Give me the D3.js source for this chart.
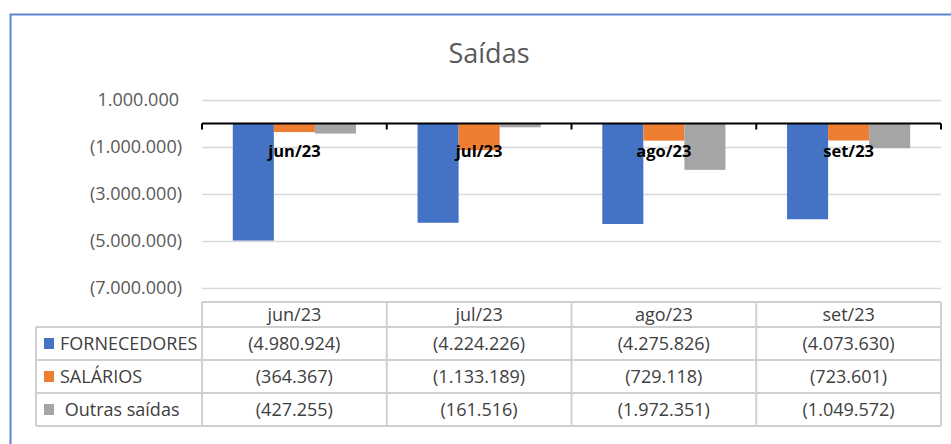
<!DOCTYPE html>
<html>
<head>
<meta charset="utf-8">
<script src="https://cdn.jsdelivr.net/npm/d3@7"></script>
<style>
  body { margin: 0; background: #fff; }
  text { font-family: "Open Sans", sans-serif; }
</style>
</head>
<body>
<div id="chart"></div>
<script>
const months = ['jun/23', 'jul/23', 'ago/23', 'set/23'];
const seriesNames = ['FORNECEDORES', 'SALÁRIOS', ' Outras saídas'];
const fornecedores = [-4980924, -4224226, -4275826, -4073630];
const salarios = [-364367, -1133189, -729118, -723601];
const outras = [-427255, -161516, -1972351, -1049572];
const yTicks = [1000000, -1000000, -3000000, -5000000, -7000000];
const colors = ['#4472C4', '#ED7D31', '#A5A5A5'];

const width = 951, height = 444;
const plot = { left: 202, right: 941, top: 100, bottom: 288 };

const locale = d3.formatLocale({ decimal: ',', thousands: '.', grouping: [3], currency: ['', ''] });
const num = locale.format(',.0f');
const fmt = v => v < 0 ? `(${num(-v)})` : num(v);

const seriesValues = [fornecedores, salarios, outras];
const rows = seriesNames.map((name, i) => ({ name, color: colors[i], values: seriesValues[i] }));

const svg = d3.select('#chart').append('svg')
    .attr('width', width)
    .attr('height', height);

svg.append('rect')
    .attr('width', width).attr('height', height)
    .attr('fill', '#fff');

// chart frame (cut off on right/bottom like the screenshot)
svg.append('rect')
    .attr('x', 10.5).attr('y', 14.5)
    .attr('width', 1000).attr('height', 500)
    .attr('fill', 'none')
    .attr('stroke', '#5b85d0')
    .attr('stroke-width', 2);

svg.append('text')
    .attr('x', 489).attr('y', 63)
    .attr('text-anchor', 'middle')
    .attr('font-size', 27)
    .attr('fill', '#595959')
    .text('Saídas');

const x0 = d3.scaleBand()
    .domain(months)
    .range([plot.left, plot.right])
    .paddingInner(0)
    .paddingOuter(0);

const x1 = d3.scaleBand()
    .domain(d3.range(rows.length))
    .range([0, x0.bandwidth()])
    .paddingInner(0)
    .paddingOuter(0.75);

const y = d3.scaleLinear()
    .domain([-7000000, 1000000])
    .range([plot.bottom, plot.top]);

// gridlines
svg.append('g')
    .selectAll('line')
    .data(yTicks)
    .enter()
    .append('line')
    .attr('x1', plot.left).attr('x2', plot.right)
    .attr('y1', d => Math.round(y(d)) + 0.5)
    .attr('y2', d => Math.round(y(d)) + 0.5)
    .attr('stroke', '#d9d9d9')
    .attr('stroke-width', 1.5);

// y axis labels
const yAxis = d3.axisLeft(y)
    .tickValues(yTicks)
    .tickFormat(fmt)
    .tickSize(0)
    .tickPadding(0);

const yg = svg.append('g')
    .attr('transform', `translate(182,0)`)
    .call(yAxis);
yg.select('.domain').remove();
yg.selectAll('text')
    .attr('font-family', '"Open Sans", sans-serif')
    .attr('font-size', 18)
    .attr('fill', '#595959')
    .attr('dx', d => d >= 0 ? -3 : 0);

// bars
const groups = svg.append('g')
    .selectAll('g')
    .data(rows)
    .enter()
    .append('g')
    .attr('fill', d => d.color);

groups.each(function (row, si) {
  d3.select(this)
      .selectAll('rect')
      .data(row.values)
      .enter()
      .append('rect')
      .attr('x', (d, i) => x0(months[i]) + x1(si))
      .attr('width', x1.bandwidth())
      .attr('y', d => y(Math.max(0, d)))
      .attr('height', d => Math.abs(y(d) - y(0)));
});

// category axis at zero
const xAxis = d3.axisBottom(x0)
    .tickSize(0)
    .tickFormat('');
const xg = svg.append('g')
    .attr('transform', `translate(0,${y(0)})`)
    .call(xAxis);
xg.select('.domain').attr('stroke', '#000').attr('stroke-width', 2)
    .attr('d', `M${plot.left},0H${plot.right}`);

xg.selectAll('.bound')
    .data(d3.range(months.length + 1))
    .enter()
    .append('line')
    .attr('class', 'bound')
    .attr('x1', i => plot.left + i * x0.step())
    .attr('x2', i => plot.left + i * x0.step())
    .attr('y1', 0).attr('y2', 6)
    .attr('stroke', '#000')
    .attr('stroke-width', 2);

svg.append('g')
    .selectAll('text')
    .data(months)
    .enter()
    .append('text')
    .attr('x', d => x0(d) + x0.bandwidth() / 2)
    .attr('y', y(0) + 33)
    .attr('text-anchor', 'middle')
    .attr('font-size', 16.5)
    .attr('font-weight', 'bold')
    .attr('fill', '#000')
    .text(d => d);

// data table
const table = { left: 36, headTop: 302, headBottom: 327, rowH: 33 };
const tableBottom = table.headBottom + rows.length * table.rowH;
const tg = svg.append('g');
const gridColor = '#d0d0d0';

// horizontal lines
tg.append('line')
    .attr('x1', plot.left).attr('x2', plot.right)
    .attr('y1', table.headTop).attr('y2', table.headTop);
d3.range(rows.length + 1).forEach(i => {
  tg.append('line')
      .attr('x1', table.left).attr('x2', plot.right)
      .attr('y1', table.headBottom + i * table.rowH)
      .attr('y2', table.headBottom + i * table.rowH);
});
// vertical lines
tg.append('line')
    .attr('x1', table.left).attr('x2', table.left)
    .attr('y1', table.headBottom).attr('y2', tableBottom);
d3.range(months.length + 1).forEach(i => {
  const xx = plot.left + i * x0.step();
  tg.append('line')
      .attr('x1', xx).attr('x2', xx)
      .attr('y1', table.headTop).attr('y2', tableBottom);
});
tg.selectAll('line')
    .attr('stroke', gridColor)
    .attr('stroke-width', 2);

// header
tg.selectAll('.head')
    .data(months)
    .enter()
    .append('text')
    .attr('class', 'head')
    .attr('x', d => x0(d) + x0.bandwidth() / 2)
    .attr('y', (table.headTop + table.headBottom) / 2)
    .attr('dy', '0.35em')
    .attr('text-anchor', 'middle')
    .attr('font-size', 18)
    .attr('fill', '#404040')
    .text(d => d);

rows.forEach((row, ri) => {
  const cy = table.headBottom + ri * table.rowH + table.rowH / 2;
  tg.append('rect')
      .attr('x', 44).attr('y', cy - 5.5)
      .attr('width', 10).attr('height', 11)
      .attr('fill', row.color);
  tg.append('text')
      .attr('x', 60).attr('y', cy)
      .attr('dy', '0.35em')
      .attr('font-size', 18)
      .attr('fill', '#404040')
      .attr('xml:space', 'preserve')
      .style('white-space', 'pre')
      .text(row.name);
  tg.selectAll(null)
      .data(row.values)
      .enter()
      .append('text')
      .attr('x', (d, i) => x0(months[i]) + x0.bandwidth() / 2)
      .attr('y', cy)
      .attr('dy', '0.35em')
      .attr('text-anchor', 'middle')
      .attr('font-size', 18)
      .attr('fill', '#404040')
      .text(d => fmt(d));
});
</script>
</body>
</html>
